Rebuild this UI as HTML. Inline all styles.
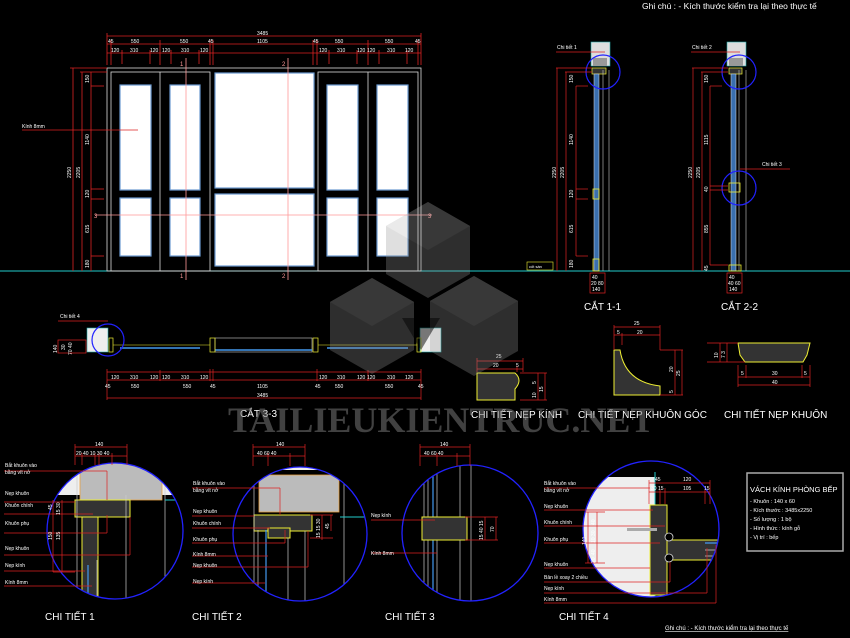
<!DOCTYPE html>
<html><head><meta charset="utf-8"><style>
html,body{margin:0;padding:0;background:#000;}
svg{display:block;}
text{font-family:"Liberation Sans",sans-serif;fill:#fff;}
.s{font-size:6px;}
.m{font-size:5px;}
.t{font-size:10px;}
</style></head><body>
<svg width="850" height="638" viewBox="0 0 850 638" xmlns="http://www.w3.org/2000/svg">
<rect width="850" height="638" fill="#000"/>

<text x="642" y="9" style="font-size:8.5px">Ghi chú : - Kích thước kiểm tra lại theo thực tế</text>

<line x1="0" y1="271" x2="850" y2="271" stroke="#2cc" stroke-width="1"/>

<!-- ELEVATION -->
<g fill="none" stroke="#ddd" stroke-width="0.8">
<rect x="107" y="68" width="314" height="203"/>
<rect x="111" y="72" width="99" height="199"/>
<line x1="160" y1="72" x2="160" y2="271"/>
<rect x="318" y="72" width="100" height="199"/>
<line x1="368" y1="72" x2="368" y2="271"/>
</g>
<g fill="#fff" stroke="#6a9ad0" stroke-width="1.2">
<rect x="120" y="85" width="31" height="105"/><rect x="120" y="198" width="31" height="58"/>
<rect x="170" y="85" width="30" height="105"/><rect x="170" y="198" width="30" height="58"/>
<rect x="215" y="73" width="99" height="115"/><rect x="215" y="194" width="99" height="72"/>
<rect x="327" y="85" width="31" height="105"/><rect x="327" y="198" width="31" height="58"/>
<rect x="377" y="85" width="31" height="105"/><rect x="377" y="198" width="31" height="58"/>
</g>
<g stroke="#f99" stroke-width="0.8" fill="none">
<line x1="186" y1="58" x2="186" y2="280"/><line x1="288" y1="58" x2="288" y2="280"/>
<line x1="95" y1="215" x2="432" y2="215"/>
<line x1="22" y1="130" x2="138" y2="130" stroke="#d22"/>
</g>
<text x="180" y="66" class="s" style="fill:#f99">1</text><text x="180" y="278" class="s" style="fill:#f99">1</text>
<text x="282" y="66" class="s" style="fill:#f99">2</text><text x="282" y="278" class="s" style="fill:#f99">2</text>
<text x="94" y="218" class="s" style="fill:#f99">3</text><text x="428" y="218" class="s" style="fill:#f99">3</text>
<text x="22" y="128" class="m">Kính 8mm</text>
<g stroke="#d22" stroke-width="0.8">
<line x1="107" y1="36" x2="421" y2="36"/><line x1="107" y1="44" x2="421" y2="44"/><line x1="107" y1="53" x2="421" y2="53"/>
<line x1="107" y1="33" x2="107" y2="65"/><line x1="421" y1="33" x2="421" y2="65"/>
<line x1="111" y1="40" x2="111" y2="65"/><line x1="160" y1="40" x2="160" y2="65"/><line x1="210" y1="40" x2="210" y2="65"/><line x1="213" y1="40" x2="213" y2="65"/>
<line x1="313" y1="40" x2="313" y2="65"/><line x1="317" y1="40" x2="317" y2="65"/><line x1="368" y1="40" x2="368" y2="65"/><line x1="418" y1="40" x2="418" y2="65"/>
<line x1="122" y1="50" x2="122" y2="64"/><line x1="150" y1="50" x2="150" y2="64"/><line x1="171" y1="50" x2="171" y2="64"/><line x1="199" y1="50" x2="199" y2="64"/>
<line x1="329" y1="50" x2="329" y2="64"/><line x1="357" y1="50" x2="357" y2="64"/><line x1="379" y1="50" x2="379" y2="64"/><line x1="407" y1="50" x2="407" y2="64"/>
<line x1="73" y1="68" x2="73" y2="271"/><line x1="82" y1="72" x2="82" y2="271"/><line x1="91" y1="72" x2="91" y2="271"/>
<line x1="70" y1="68" x2="107" y2="68"/><line x1="80" y1="72" x2="107" y2="72"/>
<line x1="91" y1="86" x2="104" y2="86"/><line x1="91" y1="189" x2="104" y2="189"/><line x1="91" y1="199" x2="104" y2="199"/><line x1="91" y1="256" x2="104" y2="256"/>
</g>
<g class="m">
<text x="257" y="35">3485</text>
<text x="108" y="43">45</text><text x="131" y="43">550</text><text x="180" y="43">550</text><text x="208" y="43">45</text><text x="257" y="43">1105</text><text x="313" y="43">45</text><text x="335" y="43">550</text><text x="385" y="43">550</text><text x="415" y="43">45</text>
<text x="111" y="52">120</text><text x="130" y="52">310</text><text x="150" y="52">120</text><text x="162" y="52">120</text><text x="181" y="52">310</text><text x="200" y="52">120</text>
<text x="319" y="52">120</text><text x="337" y="52">310</text><text x="357" y="52">120</text><text x="367" y="52">120</text><text x="387" y="52">310</text><text x="405" y="52">120</text>
</g>
<g class="m">
<text transform="translate(71,178) rotate(-90)">2250</text><text transform="translate(80,178) rotate(-90)">2205</text>
<text transform="translate(89,83) rotate(-90)">150</text><text transform="translate(89,145) rotate(-90)">1140</text><text transform="translate(89,198) rotate(-90)">120</text><text transform="translate(89,233) rotate(-90)">615</text><text transform="translate(89,268) rotate(-90)">180</text>
</g>

<!-- CAT 1-1 -->
<g>
<rect x="591" y="42" width="19" height="24" fill="#ddd" stroke="#2aa" stroke-width="0.6"/>
<rect x="593" y="58" width="14" height="8" fill="#999"/>
<rect x="592" y="68" width="14" height="6" fill="#333" stroke="#ee3" stroke-width="0.7"/>
<rect x="594" y="74" width="5" height="197" fill="#3a6fae" stroke="#ddd" stroke-width="0.5"/>
<line x1="603" y1="70" x2="603" y2="271" stroke="#ccc" stroke-width="0.6"/><line x1="609" y1="70" x2="609" y2="271" stroke="#ccc" stroke-width="0.6"/>
<rect x="593" y="189" width="6" height="10" fill="none" stroke="#ee3" stroke-width="0.8"/>
<rect x="593" y="259" width="6" height="12" fill="none" stroke="#ee3" stroke-width="0.8"/>
<circle cx="603" cy="72" r="17" fill="none" stroke="#22f" stroke-width="1.2"/>
<text x="557" y="49" class="m">Chi tiết 1</text><line x1="556" y1="52" x2="605" y2="52" stroke="#d22" stroke-width="0.7"/>
<g stroke="#d22" stroke-width="0.7"><line x1="557" y1="68" x2="557" y2="271"/><line x1="566" y1="72" x2="566" y2="271"/><line x1="576" y1="86" x2="576" y2="256"/>
<line x1="556" y1="68" x2="592" y2="68"/><line x1="565" y1="72" x2="592" y2="72"/><line x1="576" y1="86" x2="588" y2="86"/><line x1="576" y1="189" x2="588" y2="189"/><line x1="576" y1="199" x2="588" y2="199"/><line x1="576" y1="256" x2="588" y2="256"/>
<rect x="590" y="273" width="15" height="20" fill="none"/></g>
<g class="m"><text transform="translate(556,178) rotate(-90)">2250</text><text transform="translate(564,178) rotate(-90)">2205</text><text transform="translate(573,145) rotate(-90)">1140</text><text transform="translate(573,198) rotate(-90)">120</text><text transform="translate(573,233) rotate(-90)">615</text><text transform="translate(573,268) rotate(-90)">180</text><text transform="translate(573,83) rotate(-90)">150</text>
<text x="592" y="279">40</text><text x="591" y="285">20 80</text><text x="592" y="291">140</text></g>
<rect x="527" y="262" width="26" height="8" fill="none" stroke="#ee3" stroke-width="0.6"/><text x="529" y="268" class="m" style="font-size:4px">cốt sàn</text>
<text x="584" y="310" class="t">CẮT 1-1</text>
</g>
<!-- CAT 2-2 -->
<g>
<rect x="727" y="42" width="19" height="24" fill="#ddd" stroke="#2aa" stroke-width="0.6"/>
<rect x="729" y="58" width="14" height="8" fill="#999"/>
<rect x="729" y="68" width="13" height="6" fill="#333" stroke="#ee3" stroke-width="0.7"/>
<rect x="731" y="74" width="5" height="197" fill="#3a6fae" stroke="#ddd" stroke-width="0.5"/>
<line x1="739" y1="70" x2="739" y2="271" stroke="#ccc" stroke-width="0.6"/><line x1="746" y1="70" x2="746" y2="271" stroke="#ccc" stroke-width="0.6"/>
<rect x="729" y="183" width="11" height="9" fill="none" stroke="#ee3" stroke-width="0.8"/>
<rect x="729" y="265" width="12" height="6" fill="none" stroke="#ee3" stroke-width="0.8"/>
<circle cx="739" cy="72" r="17" fill="none" stroke="#22f" stroke-width="1.2"/>
<circle cx="739" cy="188" r="17" fill="none" stroke="#22f" stroke-width="1.2"/>
<text x="692" y="49" class="m">Chi tiết 2</text><line x1="691" y1="52" x2="740" y2="52" stroke="#d22" stroke-width="0.7"/>
<text x="762" y="166" class="m">Chi tiết 3</text><line x1="740" y1="169" x2="790" y2="169" stroke="#d22" stroke-width="0.7"/>
<g stroke="#d22" stroke-width="0.7"><line x1="693" y1="68" x2="693" y2="271"/><line x1="702" y1="72" x2="702" y2="271"/><line x1="710" y1="86" x2="710" y2="265"/>
<line x1="692" y1="68" x2="728" y2="68"/><line x1="701" y1="72" x2="728" y2="72"/><line x1="710" y1="86" x2="722" y2="86"/><line x1="710" y1="186" x2="728" y2="186"/><line x1="710" y1="190" x2="728" y2="190"/><line x1="710" y1="265" x2="728" y2="265"/>
<rect x="727" y="273" width="15" height="20" fill="none"/></g>
<g class="m"><text transform="translate(692,178) rotate(-90)">2250</text><text transform="translate(700,178) rotate(-90)">2205</text><text transform="translate(708,145) rotate(-90)">1115</text><text transform="translate(708,192) rotate(-90)">40</text><text transform="translate(708,233) rotate(-90)">855</text><text transform="translate(708,83) rotate(-90)">150</text><text transform="translate(708,271) rotate(-90)">45</text>
<text x="729" y="279">40</text><text x="728" y="285">40 60</text><text x="729" y="291">140</text></g>
<text x="721" y="310" class="t">CẮT 2-2</text>
</g>

<!-- CAT 3-3 -->
<g>
<rect x="87" y="328" width="21" height="24" fill="#eee" stroke="#2aa" stroke-width="0.6"/>
<rect x="109" y="338" width="4" height="14" fill="none" stroke="#ee3" stroke-width="0.7"/>
<rect x="420" y="328" width="21" height="24" fill="#eee" stroke="#2aa" stroke-width="0.6"/>
<rect x="417" y="338" width="4" height="14" fill="none" stroke="#ee3" stroke-width="0.7"/>
<line x1="113" y1="345" x2="210" y2="345" stroke="#ee3" stroke-width="0.6"/>
<line x1="318" y1="345" x2="417" y2="345" stroke="#ee3" stroke-width="0.6"/>
<line x1="120" y1="348" x2="200" y2="348" stroke="#49e" stroke-width="1.4"/>
<line x1="327" y1="348" x2="408" y2="348" stroke="#49e" stroke-width="1.4"/>
<rect x="215" y="338" width="97" height="14" fill="none" stroke="#ccc" stroke-width="0.6"/>
<line x1="215" y1="350" x2="312" y2="350" stroke="#49e" stroke-width="1.4"/>
<rect x="210" y="338" width="5" height="14" fill="none" stroke="#ee3" stroke-width="0.7"/>
<rect x="313" y="338" width="5" height="14" fill="none" stroke="#ee3" stroke-width="0.7"/>
<circle cx="108" cy="340" r="16" fill="none" stroke="#22f" stroke-width="1.2"/>
<text x="60" y="318" class="m">Chi tiết 4</text><line x1="58" y1="321" x2="108" y2="321" stroke="#d22" stroke-width="0.7"/>
<g stroke="#d22" stroke-width="0.7">
<line x1="107" y1="372" x2="421" y2="372"/><line x1="107" y1="380" x2="421" y2="380"/><line x1="107" y1="398" x2="421" y2="398"/>
<line x1="107" y1="369" x2="107" y2="400"/><line x1="421" y1="369" x2="421" y2="400"/>
<line x1="160" y1="370" x2="160" y2="381"/><line x1="210" y1="369" x2="210" y2="381"/><line x1="213" y1="369" x2="213" y2="381"/><line x1="317" y1="369" x2="317" y2="381"/><line x1="368" y1="370" x2="368" y2="381"/>
<rect x="58" y="340" width="28" height="13" fill="none"/>
</g>
<g class="m">
<text x="111" y="379">120</text><text x="130" y="379">310</text><text x="150" y="379">120</text><text x="162" y="379">120</text><text x="181" y="379">310</text><text x="200" y="379">120</text>
<text x="319" y="379">120</text><text x="337" y="379">310</text><text x="357" y="379">120</text><text x="367" y="379">120</text><text x="387" y="379">310</text><text x="405" y="379">120</text>
<text x="105" y="388">45</text><text x="131" y="388">550</text><text x="183" y="388">550</text><text x="210" y="388">45</text><text x="257" y="388">1105</text><text x="315" y="388">45</text><text x="335" y="388">550</text><text x="385" y="388">550</text><text x="418" y="388">45</text>
<text x="257" y="397">3485</text>
<text transform="translate(57,353) rotate(-90)">140</text><text transform="translate(65,350) rotate(-90)">30</text><text transform="translate(72,355) rotate(-90)">70 40</text>
</g>
<text x="240" y="417" class="t">CẮT 3-3</text>
</g>

<!-- profiles -->
<g>
<path d="M477,373 L515,373 Q523,380 515,389 L515,400 L477,400 Z" fill="#333" stroke="#ee3" stroke-width="1"/>
<g stroke="#d22" stroke-width="0.7"><line x1="477" y1="361" x2="523" y2="361"/><line x1="477" y1="369" x2="523" y2="369"/><line x1="477" y1="358" x2="477" y2="372"/><line x1="523" y1="358" x2="523" y2="372"/><line x1="517" y1="366" x2="517" y2="372"/>
<line x1="520" y1="373" x2="547" y2="373"/><line x1="520" y1="400" x2="547" y2="400"/><line x1="538" y1="373" x2="538" y2="400"/><line x1="545" y1="373" x2="545" y2="400"/></g>
<g class="m"><text x="496" y="358">25</text><text x="493" y="367">20</text><text x="516" y="367">5</text><text transform="translate(536,384) rotate(-90)">5</text><text transform="translate(536,398) rotate(-90)">10</text><text transform="translate(543,392) rotate(-90)">15</text></g>
<path d="M614,350 L620,350 Q625,382 660,386 L660,395 L614,395 Z" fill="#333" stroke="#ee3" stroke-width="1"/>
<g stroke="#d22" stroke-width="0.7"><line x1="614" y1="327" x2="660" y2="327"/><line x1="614" y1="335" x2="660" y2="335"/><line x1="614" y1="325" x2="614" y2="350"/><line x1="660" y1="325" x2="660" y2="350"/><line x1="622" y1="333" x2="622" y2="345"/>
<line x1="660" y1="350" x2="683" y2="350"/><line x1="660" y1="395" x2="683" y2="395"/><line x1="675" y1="350" x2="675" y2="395"/><line x1="682" y1="350" x2="682" y2="395"/></g>
<g class="m"><text x="634" y="325">25</text><text x="617" y="334">5</text><text x="637" y="334">20</text><text transform="translate(673,372) rotate(-90)">20</text><text transform="translate(680,376) rotate(-90)">25</text><text transform="translate(673,393) rotate(-90)">5</text></g>
<path d="M738,343 L810,343 L807,355 L803,362 L745,362 L740,355 Z" fill="#333" stroke="#ee3" stroke-width="1"/>
<g stroke="#d22" stroke-width="0.7"><line x1="707" y1="343" x2="738" y2="343"/><line x1="707" y1="362" x2="745" y2="362"/><line x1="720" y1="343" x2="720" y2="362"/><line x1="727" y1="343" x2="727" y2="362"/>
<line x1="738" y1="377" x2="810" y2="377"/><line x1="738" y1="385" x2="810" y2="385"/><line x1="738" y1="365" x2="738" y2="387"/><line x1="810" y1="365" x2="810" y2="387"/><line x1="802" y1="365" x2="802" y2="378"/><line x1="746" y1="365" x2="746" y2="378"/></g>
<g class="m"><text x="741" y="375">5</text><text x="772" y="375">30</text><text x="804" y="375">5</text><text x="772" y="384">40</text><text transform="translate(718,358) rotate(-90)">10</text><text transform="translate(725,358) rotate(-90)">7 3</text></g>
<text x="471" y="418" class="t">CHI TIẾT NẸP KÍNH</text>
<text x="578" y="418" class="t">CHI TIẾT NẸP KHUÔN GÓC</text>
<text x="724" y="418" class="t">CHI TIẾT NẸP KHUÔN</text>
</g>

<!-- DETAILS -->
<defs>
<clipPath id="c1"><circle cx="115" cy="531" r="68"/></clipPath>
<clipPath id="c2"><circle cx="300" cy="534" r="67"/></clipPath>
<clipPath id="c3"><circle cx="470" cy="533" r="68"/></clipPath>
<clipPath id="c4"><circle cx="651" cy="529" r="68"/></clipPath>
</defs>
<g clip-path="url(#c1)">
<rect x="30" y="455" width="170" height="40" fill="#eee"/>
<rect x="80" y="462" width="82" height="38" fill="#bbb" stroke="#e8a040" stroke-width="0.8"/>
<rect x="75" y="500" width="55" height="17" fill="#333" stroke="#ee3" stroke-width="1"/>
<rect x="82" y="517" width="16" height="125" fill="#333" stroke="#ee3" stroke-width="1"/>
<line x1="77" y1="460" x2="77" y2="640" stroke="#ccc" stroke-width="0.7"/><line x1="97" y1="560" x2="97" y2="640" stroke="#ccc" stroke-width="0.7"/><line x1="126" y1="495" x2="126" y2="640" stroke="#ccc" stroke-width="0.7"/><line x1="165" y1="460" x2="165" y2="640" stroke="#ccc" stroke-width="0.7"/>
<line x1="88" y1="565" x2="88" y2="640" stroke="#49e" stroke-width="1.2"/>
<line x1="165" y1="500" x2="200" y2="500" stroke="#2cc"/>
</g>
<circle cx="115" cy="531" r="68" fill="none" stroke="#22f" stroke-width="1.3"/>
<g stroke="#d22" stroke-width="0.7">
<line x1="75" y1="447" x2="127" y2="447"/><line x1="75" y1="456" x2="127" y2="456"/><line x1="75" y1="444" x2="75" y2="465"/><line x1="127" y1="444" x2="127" y2="465"/>
<line x1="82" y1="453" x2="82" y2="465"/><line x1="95" y1="453" x2="95" y2="465"/><line x1="99" y1="453" x2="99" y2="465"/><line x1="112" y1="453" x2="112" y2="465"/>
<line x1="4" y1="471" x2="107" y2="471"/><line x1="107" y1="471" x2="107" y2="500"/>
<line x1="4" y1="502" x2="75" y2="502"/><line x1="4" y1="514" x2="93" y2="514"/><line x1="4" y1="533" x2="107" y2="533"/><line x1="107" y1="515" x2="107" y2="533"/>
<line x1="4" y1="555" x2="130" y2="555"/><line x1="130" y1="517" x2="130" y2="555"/><line x1="4" y1="571" x2="85" y2="571"/><line x1="4" y1="586" x2="92" y2="586"/>
<line x1="53" y1="500" x2="53" y2="572"/><line x1="62" y1="500" x2="62" y2="572"/><line x1="53" y1="572" x2="75" y2="572"/>
</g>
<g class="m"><text x="95" y="446">140</text><text x="76" y="455">20 40 10 30 40</text>
<text x="5" y="467">Bắt khuôn vào</text><text x="5" y="474">bằng vít nở</text><text x="5" y="495">Nẹp khuôn</text><text x="5" y="507">Khuôn chính</text><text x="5" y="525">Khuôn phụ</text><text x="5" y="550">Nẹp khuôn</text><text x="5" y="567">Nẹp kính</text><text x="5" y="584">Kính 8mm</text>
<text transform="translate(52,540) rotate(-90)">150</text><text transform="translate(60,540) rotate(-90)">135</text><text transform="translate(60,515) rotate(-90)">15 30</text><text transform="translate(52,510) rotate(-90)">45</text></g>
<text x="45" y="620" class="t">CHI TIẾT 1</text>

<g clip-path="url(#c2)">
<rect x="230" y="460" width="140" height="10" fill="#eee"/>
<rect x="259" y="475" width="80" height="37" fill="#bbb" stroke="#e8a040" stroke-width="0.8"/>
<rect x="254" y="515" width="58" height="16" fill="#333" stroke="#ee3" stroke-width="1"/>
<rect x="268" y="528" width="22" height="10" fill="#333" stroke="#ee3" stroke-width="1"/>
<line x1="254" y1="460" x2="254" y2="640" stroke="#ccc" stroke-width="0.7"/><line x1="258" y1="530" x2="258" y2="640" stroke="#ccc" stroke-width="0.7"/><line x1="266" y1="530" x2="266" y2="640" stroke="#49e" stroke-width="1.2"/><line x1="288" y1="538" x2="288" y2="640" stroke="#ccc" stroke-width="0.7"/><line x1="305" y1="531" x2="305" y2="640" stroke="#ccc" stroke-width="0.7"/><line x1="344" y1="460" x2="344" y2="640" stroke="#ccc" stroke-width="0.7"/>
<line x1="340" y1="517" x2="370" y2="517" stroke="#2cc"/>
</g>
<circle cx="300" cy="534" r="67" fill="none" stroke="#22f" stroke-width="1.3"/>
<g stroke="#d22" stroke-width="0.7">
<line x1="253" y1="447" x2="305" y2="447"/><line x1="253" y1="456" x2="305" y2="456"/><line x1="253" y1="444" x2="253" y2="466"/><line x1="305" y1="444" x2="305" y2="466"/><line x1="268" y1="453" x2="268" y2="466"/><line x1="290" y1="453" x2="290" y2="466"/>
<line x1="192" y1="488" x2="280" y2="488"/><line x1="280" y1="488" x2="280" y2="515"/>
<line x1="192" y1="516" x2="254" y2="516"/><line x1="192" y1="528" x2="270" y2="528"/><line x1="192" y1="543" x2="285" y2="543"/><line x1="285" y1="530" x2="285" y2="543"/>
<line x1="192" y1="556" x2="268" y2="556"/><line x1="192" y1="567" x2="308" y2="567"/><line x1="308" y1="531" x2="308" y2="567"/><line x1="192" y1="583" x2="265" y2="583"/>
<line x1="310" y1="515" x2="333" y2="515"/><line x1="310" y1="538" x2="333" y2="538"/><line x1="322" y1="515" x2="322" y2="540"/><line x1="331" y1="515" x2="331" y2="531"/>
</g>
<g class="m"><text x="276" y="446">140</text><text x="257" y="455">40   60   40</text>
<text x="193" y="485">Bắt khuôn vào</text><text x="193" y="492">bằng vít nở</text><text x="193" y="513">Nẹp khuôn</text><text x="193" y="525">Khuôn chính</text><text x="193" y="541">Khuôn phụ</text><text x="193" y="556">Kính 8mm</text><text x="193" y="567">Nẹp khuôn</text><text x="193" y="583">Nẹp kính</text>
<text transform="translate(320,538) rotate(-90)">15 15 30</text><text transform="translate(329,529) rotate(-90)">45</text></g>
<text x="192" y="620" class="t">CHI TIẾT 2</text>

<g clip-path="url(#c3)">
<line x1="424" y1="460" x2="424" y2="640" stroke="#ccc" stroke-width="0.7"/><line x1="428" y1="460" x2="428" y2="640" stroke="#ccc" stroke-width="0.7"/><line x1="433" y1="460" x2="433" y2="640" stroke="#49e" stroke-width="1.2"/><line x1="437" y1="460" x2="437" y2="640" stroke="#ccc" stroke-width="0.7"/>
<line x1="460" y1="460" x2="460" y2="640" stroke="#ccc" stroke-width="0.7"/><line x1="471" y1="460" x2="471" y2="640" stroke="#ccc" stroke-width="0.7"/>
<rect x="422" y="517" width="45" height="23" fill="#333" stroke="#ee3" stroke-width="1"/>
</g>
<circle cx="470" cy="533" r="68" fill="none" stroke="#22f" stroke-width="1.3"/>
<g stroke="#d22" stroke-width="0.7">
<line x1="420" y1="447" x2="470" y2="447"/><line x1="420" y1="456" x2="470" y2="456"/><line x1="420" y1="444" x2="420" y2="466"/><line x1="470" y1="444" x2="470" y2="466"/><line x1="437" y1="453" x2="437" y2="466"/><line x1="457" y1="453" x2="457" y2="466"/>
<line x1="371" y1="520" x2="435" y2="520"/><line x1="371" y1="553" x2="437" y2="553"/>
<line x1="465" y1="517" x2="498" y2="517"/><line x1="465" y1="540" x2="498" y2="540"/><line x1="485" y1="517" x2="485" y2="540"/><line x1="496" y1="517" x2="496" y2="540"/>
</g>
<g class="m"><text x="440" y="446">140</text><text x="424" y="455">40   60   40</text>
<text x="371" y="517">Nẹp kính</text><text x="371" y="555">Kính 8mm</text>
<text transform="translate(483,540) rotate(-90)">15 40 15</text><text transform="translate(494,532) rotate(-90)">70</text></g>
<text x="385" y="620" class="t">CHI TIẾT 3</text>

<g clip-path="url(#c4)">
<rect x="560" y="477" width="95" height="120" fill="#eee"/>
<line x1="655" y1="472" x2="655" y2="600" stroke="#2cc"/>
<rect x="650" y="505" width="17" height="90" fill="#333" stroke="#ee3" stroke-width="1"/>
<rect x="667" y="540" width="60" height="20" fill="#333" stroke="#ee3" stroke-width="1"/>
<line x1="705" y1="543" x2="730" y2="543" stroke="#49e" stroke-width="1.2"/><line x1="705" y1="550" x2="730" y2="550" stroke="#ccc" stroke-width="0.7"/><line x1="705" y1="556" x2="730" y2="556" stroke="#ccc" stroke-width="0.7"/>
<rect x="627" y="528" width="30" height="3" fill="#aaa"/>
</g>
<circle cx="651" cy="529" r="68" fill="none" stroke="#22f" stroke-width="1.3"/>
<circle cx="669" cy="537" r="4" fill="#000" stroke="#ddd" stroke-width="0.8"/>
<circle cx="669" cy="558" r="4" fill="#000" stroke="#ddd" stroke-width="0.8"/>
<g stroke="#d22" stroke-width="0.7">
<line x1="649" y1="483" x2="710" y2="483"/><line x1="649" y1="492" x2="710" y2="492"/><line x1="649" y1="480" x2="649" y2="504"/><line x1="710" y1="480" x2="710" y2="504"/><line x1="660" y1="490" x2="660" y2="504"/><line x1="665" y1="488" x2="665" y2="504"/><line x1="705" y1="490" x2="705" y2="504"/>
<line x1="544" y1="488" x2="650" y2="488"/><line x1="544" y1="510" x2="653" y2="510"/><line x1="544" y1="526" x2="665" y2="526"/><line x1="544" y1="543" x2="660" y2="543"/>
<line x1="544" y1="568" x2="650" y2="568"/><line x1="544" y1="582" x2="670" y2="582"/><line x1="670" y1="562" x2="670" y2="582"/><line x1="544" y1="593" x2="707" y2="593"/><line x1="707" y1="548" x2="707" y2="593"/><line x1="544" y1="603" x2="716" y2="603"/><line x1="716" y1="545" x2="716" y2="603"/>
<line x1="585" y1="512" x2="605" y2="512"/><line x1="585" y1="563" x2="605" y2="563"/><line x1="588" y1="512" x2="588" y2="563"/><line x1="597" y1="512" x2="597" y2="563"/>
</g>
<g class="m"><text x="655" y="481">45</text><text x="683" y="481">120</text><text x="651" y="490">30 15</text><text x="683" y="490">105</text><text x="704" y="490">15</text>
<text x="544" y="485">Bắt khuôn vào</text><text x="544" y="492">bằng vít nở</text><text x="544" y="508">Nẹp khuôn</text><text x="544" y="524">Khuôn chính</text><text x="544" y="541">Khuôn phụ</text><text x="544" y="566">Nẹp khuôn</text><text x="544" y="579">Bản lề xoay 2 chiều</text><text x="544" y="590">Nẹp kính</text><text x="544" y="601">Kính 8mm</text>
<text transform="translate(595,525) rotate(-90)">40</text><text transform="translate(595,543) rotate(-90)">10 30</text><text transform="translate(595,555) rotate(-90)">40</text><text transform="translate(586,545) rotate(-90)">140</text><text transform="translate(595,563) rotate(-90)">20</text></g>
<text x="559" y="620" class="t">CHI TIẾT 4</text>

<rect x="747" y="473" width="96" height="78" fill="none" stroke="#aaa" stroke-width="1.5"/>
<text x="750" y="492" style="font-size:7.5px">VÁCH KÍNH PHÒNG BẾP</text>
<g class="m" style="font-size:5.5px"><text x="750" y="503">- Khuôn : 140 x 60</text><text x="750" y="512">- Kích thước : 3485x2250</text><text x="750" y="521">- Số lượng : 1 bộ</text><text x="750" y="530">- Hình thức : kính gỗ</text><text x="750" y="539">- Vị trí : bếp</text></g>
<text x="665" y="630" style="font-size:6px;text-decoration:underline">Ghi chú : - Kích thước kiểm tra lại theo thực tế</text>

<!-- watermark -->
<g opacity="0.3">
<polygon points="428,202 470,226 470,274 428,298 386,274 386,226" fill="#999"/>
<polygon points="428,202 470,226 428,250 386,226" fill="#bbb"/>
<polygon points="372,278 414,302 414,350 372,374 330,350 330,302" fill="#999"/>
<polygon points="372,278 414,302 372,326 330,302" fill="#bbb"/>
<polygon points="474,276 518,301 518,351 474,376 430,351 430,301" fill="#999"/>
<polygon points="474,276 518,301 474,326 430,301" fill="#bbb"/>
</g>
<polygon points="402,318 440,318 421,350" fill="#000" opacity="0.5"/>
<text x="228" y="432" style="font-family:'Liberation Serif',serif;font-weight:bold;font-size:36px;fill:#777;opacity:0.55">TAILIEUKIENTRUC.NET</text>
</svg>
</body></html>
